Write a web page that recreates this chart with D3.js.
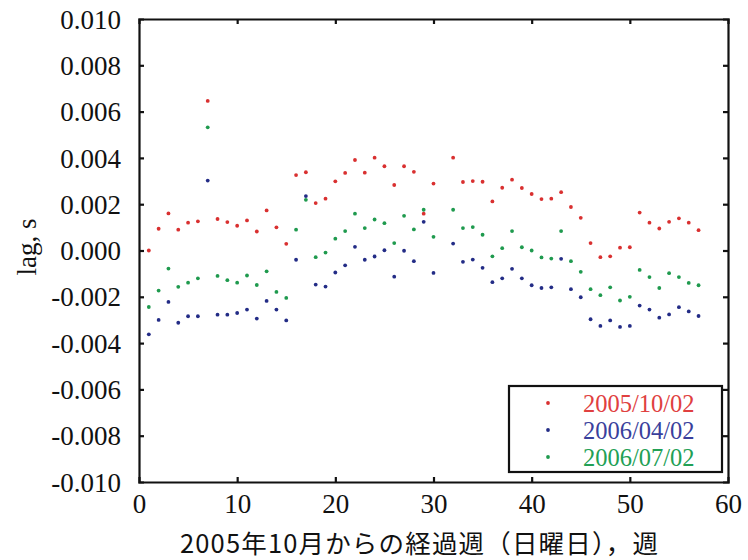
<!DOCTYPE html>
<html><head><meta charset="utf-8">
<script src="https://cdn.jsdelivr.net/npm/d3@7"></script>
<style>body{margin:0;background:#fff}
.serif{font-family:"Liberation Serif","Times New Roman",Times,"DejaVu Serif",serif;}
</style>
</head><body><svg id="c" width="748" height="560"></svg>
<script>
const weeks = [1,2,3,4,5,6,7,8,9,10,11,12,13,14,15,16,17,18,19,20,21,22,23,24,25,26,27,28,29,30,32,33,34,35,36,37,38,39,40,41,42,43,44,45,46,47,48,49,50,51,52,53,54,55,56,57];
const series2005_10_02 = [0.0000,0.00094,0.0016,0.0009,0.0012,0.00126,0.00646,0.00136,0.00123,0.00107,0.0013,0.00082,0.00173,0.0010,0.00029,0.00326,0.00338,0.00205,0.00224,0.00299,0.00335,0.00391,0.00336,0.00401,0.00364,0.00283,0.00364,0.0034,0.00159,0.00289,0.00401,0.00296,0.0030,0.00297,0.00212,0.00271,0.00306,0.0027,0.00244,0.00222,0.00224,0.00252,0.00188,0.00141,0.00032,-0.00029,-0.00025,0.00012,0.00014,0.00164,0.0012,0.00095,0.00124,0.00139,0.0012,0.00088];
const series2006_04_02 = [-0.00362,-0.0030,-0.00222,-0.00312,-0.00284,-0.00284,0.00302,-0.00277,-0.00277,-0.0027,-0.00255,-0.00294,-0.00218,-0.00255,-0.00302,-0.0004,0.00235,-0.00147,-0.00156,-0.00095,-0.00064,0.00016,-0.0004,-0.00026,0.00001,-0.00113,-0.00001,-0.00046,0.00124,-0.00097,0.0003,-0.00049,-0.00039,-0.00075,-0.00137,-0.0012,-0.00079,-0.0012,-0.0015,-0.00162,-0.00159,-0.00036,-0.00167,-0.00202,-0.00297,-0.00326,-0.00302,-0.0033,-0.00326,-0.00238,-0.00255,-0.0029,-0.00276,-0.00245,-0.00263,-0.00283];
const series2006_07_02 = [-0.00244,-0.00173,-0.00078,-0.00157,-0.00139,-0.0012,0.00532,-0.0011,-0.00128,-0.00139,-0.00108,-0.00149,-0.0009,-0.00179,-0.00205,0.0009,0.00219,-0.00029,-0.00009,0.00051,0.00084,0.00159,0.00097,0.00134,0.00118,0.00032,0.0015,0.00091,0.00176,0.00059,0.00176,0.00097,0.00101,0.00068,-0.00025,0.0001,0.00084,0.00014,0.0,-0.0003,-0.00035,0.00084,-0.00046,-0.00092,-0.00167,-0.00193,-0.00159,-0.00216,-0.002,-0.00084,-0.00115,-0.00162,-0.00098,-0.00115,-0.0014,-0.0015];
const legendLabels = ["2005/10/02","2006/04/02","2006/07/02"];
const xTicks = [0,10,20,30,40,50,60];
const yTicks = [-0.010,-0.008,-0.006,-0.004,-0.002,0.000,0.002,0.004,0.006,0.008,0.010];
const xTitle = "2005年10月からの経過週（日曜日），週";
const yTitle = "lag, s";

const svg = d3.select("#c");
const L = 139, R = 728, T = 19, B = 482;
const x = d3.scaleLinear().domain([0,60]).range([L,R]);
const y = d3.scaleLinear().domain([-0.010,0.010]).range([B,T]);

const dotColors = ["#d93030","#232c86","#1f9a4e"];
const textColors = ["#e04040","#3a3f9c","#22a055"];

const drawOrder = [0,2,1];
const allSeries = [series2005_10_02, series2006_04_02, series2006_07_02];
drawOrder.forEach(i => {
  svg.append("g").selectAll("circle").data(weeks.map((w,j)=>[w, allSeries[i][j]]))
    .join("circle")
    .attr("cx", d => x(d[0])).attr("cy", d => y(d[1]))
    .attr("r", 1.9).attr("fill", dotColors[i]);
});

const tickLen = 5;
const fmtY = d => d3.format(".3f")(d).replace("\u2212","-");
const axB = svg.append("g").attr("transform",`translate(0,${B})`)
  .call(d3.axisBottom(x).tickValues(xTicks).tickSize(-tickLen).tickPadding(12).tickFormat(d3.format("d")));
const axT = svg.append("g").attr("transform",`translate(0,${T})`)
  .call(d3.axisTop(x).tickValues(xTicks).tickSize(-tickLen).tickFormat(""));
const axL = svg.append("g").attr("transform",`translate(${L},0)`)
  .call(d3.axisLeft(y).tickValues(yTicks).tickSize(-tickLen).tickPadding(18).tickFormat(fmtY));
const axR = svg.append("g").attr("transform",`translate(${R},0)`)
  .call(d3.axisRight(y).tickValues(yTicks).tickSize(-tickLen).tickFormat(""));
[axB,axT,axL,axR].forEach(a => {
  a.attr("font-family",null).attr("font-size",null);
  a.select(".domain").attr("stroke","#111").attr("stroke-width",2.2);
  a.selectAll(".tick line").attr("stroke","#111").attr("stroke-width",2.2);
  a.selectAll("text").attr("class","serif").style("font-size","27px").attr("fill","#111");
});
axB.selectAll("text").attr("dy","0.71em");
axL.selectAll("text").attr("dy","0.34em");
axB.selectAll(".tick").filter(d=>d===0||d===60).select("line").remove();
axT.selectAll(".tick").filter(d=>d===0||d===60).select("line").remove();
axL.selectAll(".tick").filter(d=>d===-0.010||d===0.010).select("line").remove();
axR.selectAll(".tick").filter(d=>d===-0.010||d===0.010).select("line").remove();

svg.append("text").attr("x",419).attr("y",553).attr("text-anchor","middle")
  .attr("textLength",478).attr("lengthAdjust","spacing")
  .style("font-family","'Noto Sans CJK JP','Noto Sans',sans-serif").style("font-size","25.5px").attr("fill","#111")
  .text(xTitle);
svg.append("text").attr("class","serif").attr("transform","translate(36,247) rotate(-90)").attr("text-anchor","middle")
  .style("font-size","27px").attr("fill","#111").text(yTitle);

const lg = svg.append("g");
lg.append("rect").attr("x",509).attr("y",386).attr("width",213).attr("height",86)
  .attr("fill","#fff").attr("stroke","#111").attr("stroke-width",2.2);
legendLabels.forEach((lab,i) => {
  const cy = 403 + i*27;
  lg.append("circle").attr("cx",548).attr("cy",cy).attr("r",1.9).attr("fill",dotColors[i]);
  lg.append("text").attr("class","serif").attr("x",583).attr("y",cy).attr("dy","0.35em")
    .style("font-size","24.5px").attr("fill",textColors[i]).text(lab);
});
</script></body></html>
